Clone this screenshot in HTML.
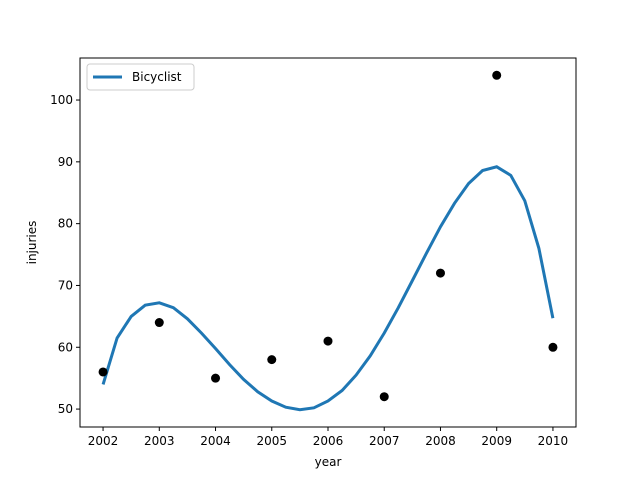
<!DOCTYPE html>
<html><head><meta charset="utf-8"><style>
body{margin:0;background:#fff;font-family:"Liberation Sans","DejaVu Sans",sans-serif}
svg text{font-family:"DejaVu Sans","Liberation Sans",sans-serif;font-size:12px;fill:#000}
</style></head><body>
<svg id="chart" width="640" height="480" xmlns="http://www.w3.org/2000/svg">
<rect width="640" height="480" fill="#fff"/>
<g id="plot"></g>
</svg>
<script>
const years=[2002,2003,2004,2005,2006,2007,2008,2009,2010];
const injuries=[56,64,55,58,61,52,72,104,60];
const fitX=[2002,2002.25,2002.5,2002.75,2003,2003.25,2003.5,2003.75,2004,2004.25,2004.5,2004.75,2005,2005.25,2005.5,2005.75,2006,2006.25,2006.5,2006.75,2007,2007.25,2007.5,2007.75,2008,2008.25,2008.5,2008.75,2009,2009.25,2009.5,2009.75,2010];
const fitY=[54,61.5,65,66.8,67.2,66.4,64.6,62.3,59.8,57.2,54.8,52.8,51.3,50.3,49.9,50.2,51.3,53,55.5,58.6,62.3,66.4,70.8,75.2,79.5,83.3,86.5,88.6,89.2,87.8,83.7,76,64.7];
const xTicks=[2002,2003,2004,2005,2006,2007,2008,2009,2010];
const yTicks=[50,60,70,80,90,100];
const L=80,R=576,T=58,B=427;
const x0=2001.59,x1=2010.41,y0=47.1,y1=106.8;
const sx=v=>L+(v-x0)/(x1-x0)*(R-L);
const sy=v=>B-(v-y0)/(y1-y0)*(B-T);
const NS='http://www.w3.org/2000/svg';
const g=document.getElementById('plot');
function mk(t,a){const e=document.createElementNS(NS,t);for(const k in a)e.setAttribute(k,a[k]);g.appendChild(e);return e;}
// fit line
let d=fitX.map((v,i)=>(i?'L':'M')+sx(v).toFixed(1)+','+sy(fitY[i]).toFixed(1)).join('');
let ln=mk('path',{d:d,fill:'none',stroke:'#1f77b4','stroke-width':3});


years.forEach((v,i)=>{const c=mk('circle',{cx:sx(v),cy:sy(injuries[i]),r:4.5,fill:'#000'});

});
let fr=mk('rect',{x:L,y:T,width:R-L,height:B-T,fill:'none',stroke:'#000','stroke-width':1});


xTicks.forEach(v=>{const x=sx(v);mk('line',{x1:x,x2:x,y1:B,y2:B+4,stroke:'#000'});
const t=mk('text',{x:x,y:B+18,'text-anchor':'middle'});t.textContent=v;

});
yTicks.forEach(v=>{const y=sy(v);mk('line',{x1:L-4,x2:L,y1:y,y2:y,stroke:'#000'});
const t=mk('text',{x:L-7,y:y+4,'text-anchor':'end'});t.textContent=v;

});
let xt=mk('text',{x:(L+R)/2,y:466,'text-anchor':'middle'});xt.textContent='year';


let yt=mk('text',{x:36,y:(T+B)/2,'text-anchor':'middle',transform:'rotate(-90 36 '+((T+B)/2)+')'});yt.textContent='injuries';


let lg=mk('rect',{x:87,y:64,width:107,height:26,rx:3,fill:'#fff',stroke:'#ccc'});


mk('line',{x1:93,x2:122,y1:77,y2:77,stroke:'#1f77b4','stroke-width':3});
let lt=mk('text',{x:132,y:81});lt.textContent='Bicyclist';


</script>
</body></html>
